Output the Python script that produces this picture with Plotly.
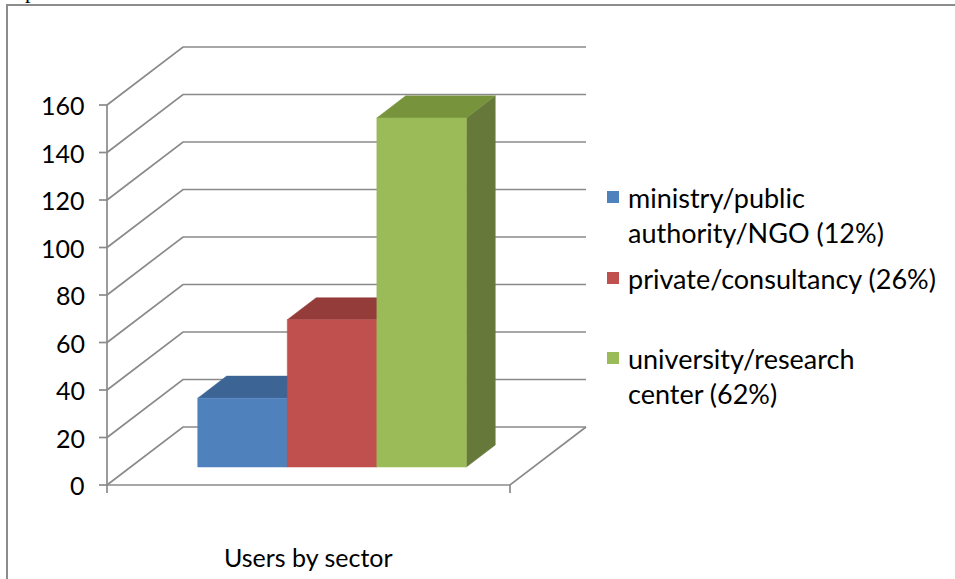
import plotly.graph_objects as go

# ---------------- data ----------------
categories = ["ministry/public authority/NGO (12%)",
              "private/consultancy (26%)",
              "university/research center (62%)"]
legend_labels = ["ministry/public<br>authority/NGO (12%)",
                 "private/consultancy (26%)",
                 "university/research<br>center (62%)"]
values = [29, 62, 147]
y_ticks = [0, 20, 40, 60, 80, 100, 120, 140, 160]
x_label = "Users by sector"

front_colors = ["#4F81BD", "#C0504D", "#9BBB59"]
top_colors = ["#3C6494", "#943C3A", "#77933C"]
side_colors = ["#3A5E88", "#8C3836", "#66793A"]

# ---------------- geometry (pixels / value units) ----------------
W, H = 955, 579
PXU = 2.375            # px per value unit
Y0PX = 485             # pixel row of value 0 on front plane
DX, DY = 76.0, 58.0    # floor depth offset in px
XL, XR = 107.0, 510.0  # floor front edge
F0, F1 = 0.31, 0.69    # bar front/back depth fractions
GAP = 1 / 6            # gap fraction on each side of bar group
FONT = "Lato"
FS = 25
LFS = 27
GRID = "#8A8A8A"

ymax = Y0PX / PXU
ymin = (Y0PX - H) / PXU
dyu = DY / PXU          # depth offset in value units


def px_y(py):
    return (Y0PX - py) / PXU


fig = go.Figure()

# back wall + left wall gridlines
gx, gy = [], []
for t in y_ticks:
    gx += [XL, XL + DX, XL + DX + (XR - XL), None]
    gy += [t, t + dyu, t + dyu, None]
# floor front edge and right edge
gx += [XL, XR, XR + DX, None]
gy += [0, 0, dyu, None]
# vertical value axis
gx += [XL, XL, None]
gy += [0, y_ticks[-1], None]
# value-axis tick marks
for t in y_ticks:
    gx += [XL - 8, XL, None]
    gy += [t, t, None]
# category-axis tick marks
for xx in (XL, XR):
    gx += [xx, xx, None]
    gy += [0, -8 / PXU, None]
fig.add_trace(go.Scatter(x=gx, y=gy, mode="lines",
                         line=dict(color=GRID, width=1.7),
                         hoverinfo="skip", showlegend=False))

n = len(values)
bw = (XR - XL) * (1 - 2 * GAP) / n
base = F0 * dyu
dbx = (F1 - F0) * DX
dby = (F1 - F0) * dyu


def poly(xs, ys, color, name=None):
    fig.add_trace(go.Scatter(
        x=xs + [xs[0]], y=ys + [ys[0]], mode="lines", fill="toself",
        fillcolor=color, line=dict(width=0.5, color=color),
        name=name, hoverinfo="skip" if name is None else "name",
        showlegend=False))


for i, v in enumerate(values):
    left = XL + (XR - XL) * GAP + i * bw + F0 * DX
    right = left + bw
    top = base + v
    # side face
    poly([right, right + dbx, right + dbx, right],
         [base, base + dby, top + dby, top], side_colors[i])
    # top face
    poly([left, right, right + dbx, left + dbx],
         [top, top, top + dby, top + dby], top_colors[i])
    # front face
    poly([left, right, right, left],
         [base, base, top, top], front_colors[i], name=categories[i])

annotations = []
for t in y_ticks:
    annotations.append(dict(x=87, y=t, xref="x", yref="y", text=str(t),
                            showarrow=False, xanchor="right", yanchor="middle",
                            font=dict(family=FONT, size=FS, color="#000")))
annotations.append(dict(x=(XL + XR) / 2, y=px_y(557), xref="x", yref="y",
                        text=x_label, showarrow=False, xanchor="center",
                        yanchor="middle",
                        font=dict(family=FONT, size=FS, color="#000")))

# legend
leg_sq_y = [197, 278, 358]
shapes = []
for i in range(n):
    cy = leg_sq_y[i]
    shapes.append(dict(type="rect", xref="x", yref="y",
                       x0=607, x1=619, y0=px_y(cy - 6), y1=px_y(cy + 6),
                       fillcolor=front_colors[i], line=dict(width=0)))
    annotations.append(dict(x=626, y=px_y(cy - 18), xref="x", yref="y",
                            text=legend_labels[i], showarrow=False,
                            xanchor="left", yanchor="top", align="left",
                            font=dict(family=FONT, size=LFS, color="#000")))

# chart frame
shapes.append(dict(type="rect", xref="paper", yref="paper",
                   x0=7 / W, x1=1.02, y0=-0.02, y1=1 - 5 / H,
                   line=dict(color="#8C8C8C", width=2), fillcolor="rgba(0,0,0,0)",
                   layer="below"))

# stray "p" from surrounding document text
annotations.append(dict(x=30 / W, y=1 + 10 / H, xref="paper", yref="paper",
                        text="p", showarrow=False, xanchor="center",
                        yanchor="middle",
                        font=dict(family="Liberation Serif", size=22, color="#000")))

fig.update_layout(
    width=W, height=H,
    margin=dict(l=0, r=0, t=0, b=0),
    paper_bgcolor="white", plot_bgcolor="rgba(0,0,0,0)",
    xaxis=dict(range=[0, W], visible=False, fixedrange=True),
    yaxis=dict(range=[ymin, ymax], visible=False, fixedrange=True),
    annotations=annotations, shapes=shapes,
    showlegend=False,
)

fig.write_html("out.html")
